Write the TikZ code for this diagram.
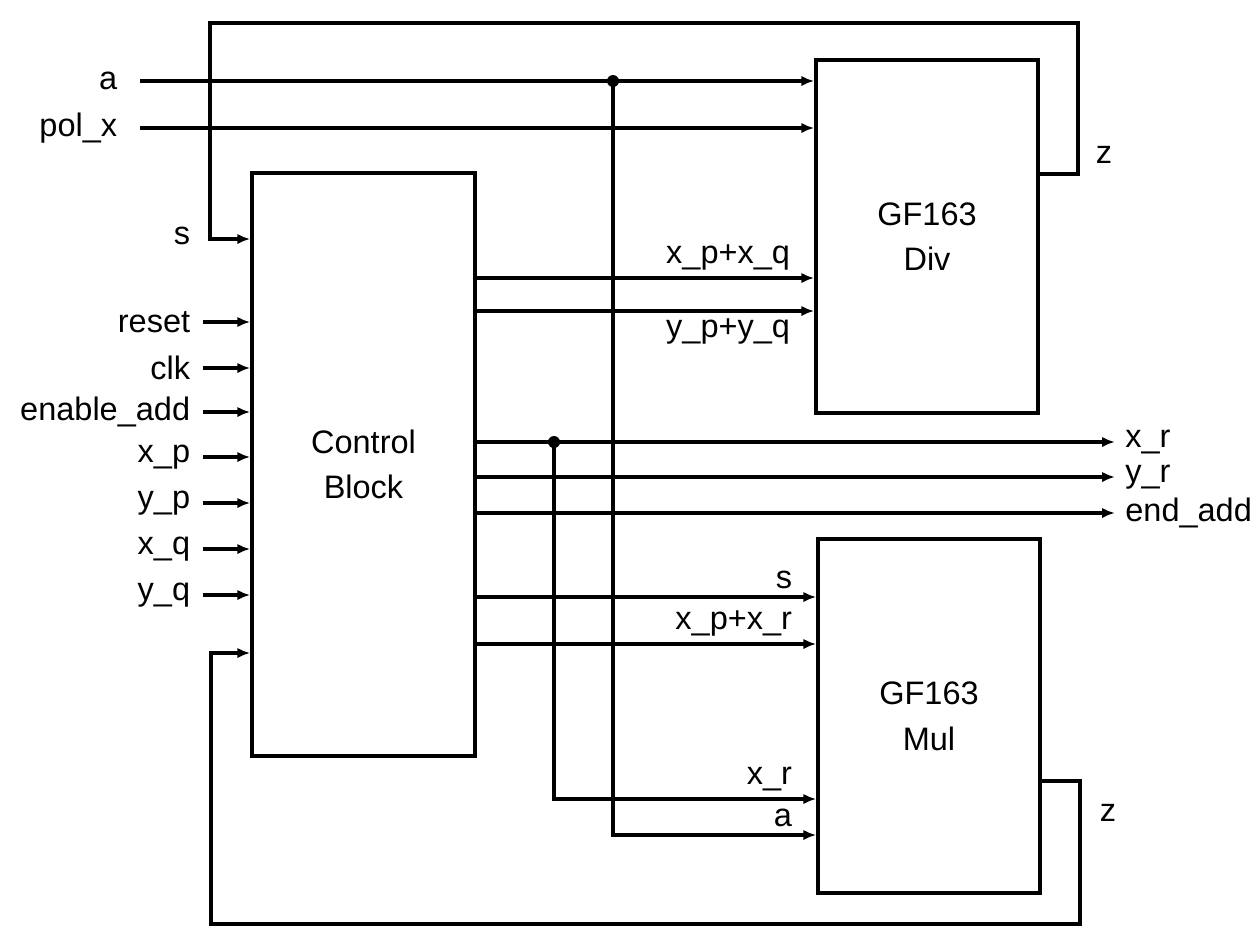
\documentclass[tikz,border=0pt]{standalone}
\usepackage{fontspec}
\setmainfont{Liberation Sans}
\usetikzlibrary{arrows.meta,positioning,calc}
\newcommand{\sigfont}{\fontsize{18.5}{26}\selectfont}
\tikzset{
  gfbox/.style={draw, line width=2pt, minimum width=4.44cm, align=center, font=\sigfont},
  sigline/.style={line width=2pt},
  sigarrow/.style={-{Latex[length=2.6mm,width=2.1mm]}, line width=2pt},
  inlbl/.style={anchor=east, inner xsep=0.25cm, font=\sigfont},
  outlbl/.style={anchor=west, inner xsep=0.2cm, font=\sigfont},
  buslbl/.style={font=\sigfont, inner xsep=0pt, inner ysep=0.12cm, xshift=-0.45cm},
  tapdot/.style={circle, fill, inner sep=0pt, minimum size=0.24cm},
}

\begin{document}
\begin{tikzpicture}[x=0.02cm, y=-0.02cm]
  \useasboundingbox (0,0) rectangle (1260,931);

  % Blocks
  \node[gfbox, minimum width=4.46cm, minimum height=11.66cm] (ctrl) at (363.5,464.5) {Control\\Block};
  \node[gfbox, minimum height=7.06cm] (div) at (927,236.5) {GF163\\Div};
  \node[gfbox, minimum height=7.08cm] (mul) at (929,716) {GF163\\Mul};

  % Inputs a, pol_x to Div
  \node[inlbl, inner xsep=0.45cm] (ina) at (140,81) {a};
  \node[inlbl, inner xsep=0.45cm] (inpol) at (140,128) {pol\_x};
  \draw[sigarrow] (ina.east) -- (div.west |- ina.east);
  \draw[sigarrow] (inpol.east) -- (div.west |- inpol.east);

  % Control inputs
  \node[inlbl] (ins) at (203,236) {s};
  \foreach \y/\txt in {322/reset,368/clk,412/enable\_add,457/x\_p,503/y\_p,549/x\_q,595/y\_q}{
    \node[inlbl] (in\y) at (203,\y) {\txt};
    \draw[sigarrow] (in\y.east) -- (ctrl.west |- in\y.east);
  }

  % Control to Div
  \draw[sigarrow] (ctrl.east |- 0,278) -- (div.west |- 0,278)
    node[buslbl, anchor=south east] {x\_p+x\_q};
  \draw[sigarrow] (ctrl.east |- 0,311) -- (div.west |- 0,311)
    node[buslbl, anchor=north east] {y\_p+y\_q};

  % Outputs
  \node[outlbl] (outxr) at (1115,442) {x\_r};
  \node[outlbl] (outyr) at (1115,477) {y\_r};
  \node[outlbl] (outend) at (1115,513) {end\_add};
  \draw[sigarrow] (ctrl.east |- outxr.west) -- (outxr.west);
  \draw[sigarrow] (ctrl.east |- outyr.west) -- (outyr.west);
  \draw[sigarrow] (ctrl.east |- outend.west) -- (outend.west);

  % Control to Mul
  \draw[sigarrow] (ctrl.east |- 0,597) -- (mul.west |- 0,597)
    node[buslbl, anchor=south east] {s};
  \draw[sigarrow] (ctrl.east |- 0,644) -- (mul.west |- 0,644)
    node[buslbl, anchor=south east] {x\_p+x\_r};

  % Taps down to Mul
  \node[tapdot] (dota) at (613,81) {};
  \node[tapdot] (dotxr) at (554,442) {};
  \draw[sigarrow] (dotxr.center) |- (mul.west |- 0,799)
    node[buslbl, anchor=south east] {x\_r};
  \draw[sigarrow] (dota.center) |- (mul.west |- 0,835)
    node[buslbl, anchor=south east] {a};

  % Feedback loops
  \draw[sigarrow] (div.east |- 0,174) -- ++(38,0) |- (210,23) |- (ctrl.west |- 0,239);
  \draw[sigarrow] (mul.east |- 0,781) -- ++(38,0) |- (211,924) |- (ctrl.west |- 0,653);
  \node[font=\sigfont] (zdiv) at (1104,155) {z};
  \node[font=\sigfont] (zmul) at (1108,813) {z};
\end{tikzpicture}
\end{document}
